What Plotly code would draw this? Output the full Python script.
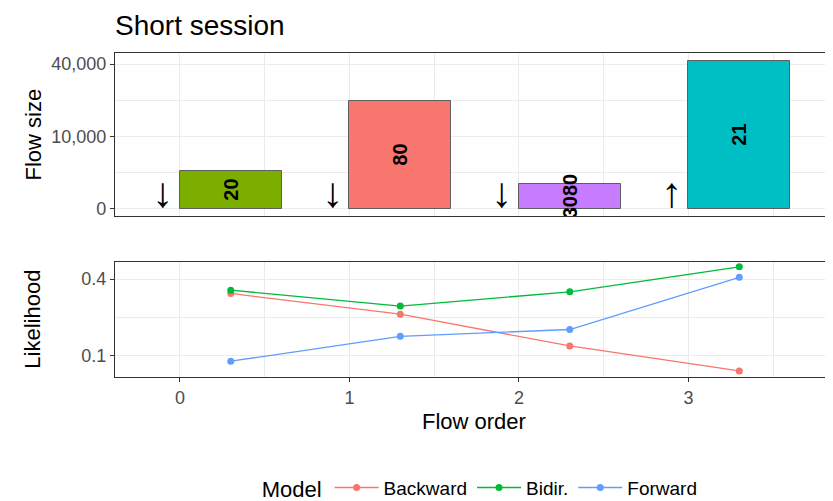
import numpy as np
import plotly.graph_objects as go

# data
flow_order = [0, 1, 2, 3]
flow_size = [2650, 22000, 1150, 42000]
bar_labels = ['20', '80', '3080', '21']
bar_colors = ['#7CAE00', '#F8766D', '#C77CFF', '#00BFC4']
directions = ['\u2193', '\u2193', '\u2193', '\u2191']

models = ['Backward', 'Bidir.', 'Forward']
model_colors = ['#F8766D', '#00BA38', '#619CFF']
lik_backward = [0.328, 0.237, 0.126, 0.063]
lik_bidir = [0.344, 0.271, 0.336, 0.467]
lik_forward = [0.085, 0.156, 0.179, 0.409]

size_ticks = [0, 10000, 40000]
lik_ticks = [0.1, 0.4]

FONT = 'Liberation Sans'
GRID = '#EBEBEB'
BOX = '#333333'
TICKC = '#4D4D4D'

# the page body has an 8px margin, so the figure is 8px smaller than the window
W, H = 825, 493

order = np.array(flow_order, dtype=float)
sq_size = np.sqrt(flow_size)
sq_size_ticks = np.sqrt(size_ticks)
sq_lik_ticks = np.sqrt(lik_ticks)

fig = go.Figure()

# top panel: bars on sqrt scale
fig.add_trace(go.Bar(
    x=order + 0.3, y=sq_size, width=0.6,
    marker=dict(color=bar_colors, line=dict(color='#5E5E5E', width=1)),
    text=bar_labels, textposition='inside', insidetextanchor='middle', textangle=-90,
    textfont=dict(family=FONT, size=20, color='black', weight='bold'),
    showlegend=False, hoverinfo='skip', xaxis='x', yaxis='y'))

# bottom panel: likelihood lines
for name, col, vals in zip(models, model_colors, [lik_backward, lik_bidir, lik_forward]):
    fig.add_trace(go.Scatter(
        x=order + 0.3, y=np.sqrt(vals), mode='lines+markers', name=name,
        line=dict(color=col, width=1.3), marker=dict(color=col, size=7),
        xaxis='x2', yaxis='y2'))

# direction arrows, sitting on the zero line left of each bar
for o, d in zip(order, directions):
    fig.add_annotation(x=o - 0.1, y=0, xref='x', yref='y', text=d, showarrow=False,
                       xanchor='center', yanchor='bottom', yshift=-9,
                       font=dict(family=FONT, size=42, color='black'))

xr = [-0.383, 3.853]
xgrid = dict(range=xr, tickvals=flow_order, showgrid=True, gridcolor=GRID, gridwidth=1.1,
             minor=dict(tickvals=list(order + 0.5), showgrid=True, gridcolor=GRID, gridwidth=0.6),
             showline=True, mirror=True, linecolor=BOX, linewidth=1.1, zeroline=False)

fig.update_layout(
    width=W, height=H,
    margin=dict(l=107, r=0, t=45, b=124, autoexpand=False),
    plot_bgcolor='white', paper_bgcolor='white',
    font=dict(family=FONT, color='black'),
    title=dict(text='Short session', x=107 / W, xanchor='left', y=1 - 17 / H, yanchor='middle',
               font=dict(size=28, color='black')),
    uniformtext=dict(minsize=20, mode='show'),
    xaxis=dict(domain=[0, 1], anchor='y', showticklabels=False, ticks='', **xgrid),
    yaxis=dict(domain=[0.497, 1], range=[-10.3, 215.4], tickvals=sq_size_ticks,
               ticktext=[f'{v:,}' for v in size_ticks], ticks='outside', ticklen=4, tickcolor=BOX,
               tickfont=dict(size=18, color=TICKC), showgrid=True, gridcolor=GRID, gridwidth=1.1,
               minor=dict(tickvals=list((sq_size_ticks[:-1] + sq_size_ticks[1:]) / 2), showgrid=True,
                          gridcolor=GRID, gridwidth=0.6),
               showline=True, mirror=True, linecolor=BOX, linewidth=1.1, zeroline=False),
    xaxis2=dict(domain=[0, 1], anchor='y2', ticks='outside', ticklen=4, tickcolor=BOX,
                tickfont=dict(size=18, color=TICKC), **xgrid),
    yaxis2=dict(domain=[0, 0.354], range=[0.226, 0.702], tickvals=sq_lik_ticks,
                ticktext=[str(v) for v in lik_ticks], ticks='outside', ticklen=4, tickcolor=BOX,
                tickfont=dict(size=18, color=TICKC), showgrid=True, gridcolor=GRID, gridwidth=1.1,
                minor=dict(tickvals=[(sq_lik_ticks[0] + sq_lik_ticks[1]) / 2], showgrid=True,
                           gridcolor=GRID, gridwidth=0.6),
                showline=True, mirror=True, linecolor=BOX, linewidth=1.1, zeroline=False),
    legend=dict(orientation='h', x=0.51, xanchor='center', y=-0.343, yanchor='middle',
                title=dict(text='Model', side='left', font=dict(size=22)),
                font=dict(size=19), itemwidth=44, bgcolor='rgba(0,0,0,0)'),
    bargap=0,
)

# axis titles
fig.add_annotation(text='Flow size', x=-82 / 718, y=0.7485, xref='paper', yref='paper',
                   xanchor='center', yanchor='middle', textangle=-90, showarrow=False,
                   font=dict(size=22))
fig.add_annotation(text='Likelihood', x=-82 / 718, y=0.177, xref='paper', yref='paper',
                   xanchor='center', yanchor='middle', textangle=-90, showarrow=False,
                   font=dict(size=22))
fig.add_annotation(text='Flow order', x=0.5, y=-0.138, xref='paper', yref='paper',
                   yanchor='middle', showarrow=False, font=dict(size=22))

fig.write_html('out.html')
